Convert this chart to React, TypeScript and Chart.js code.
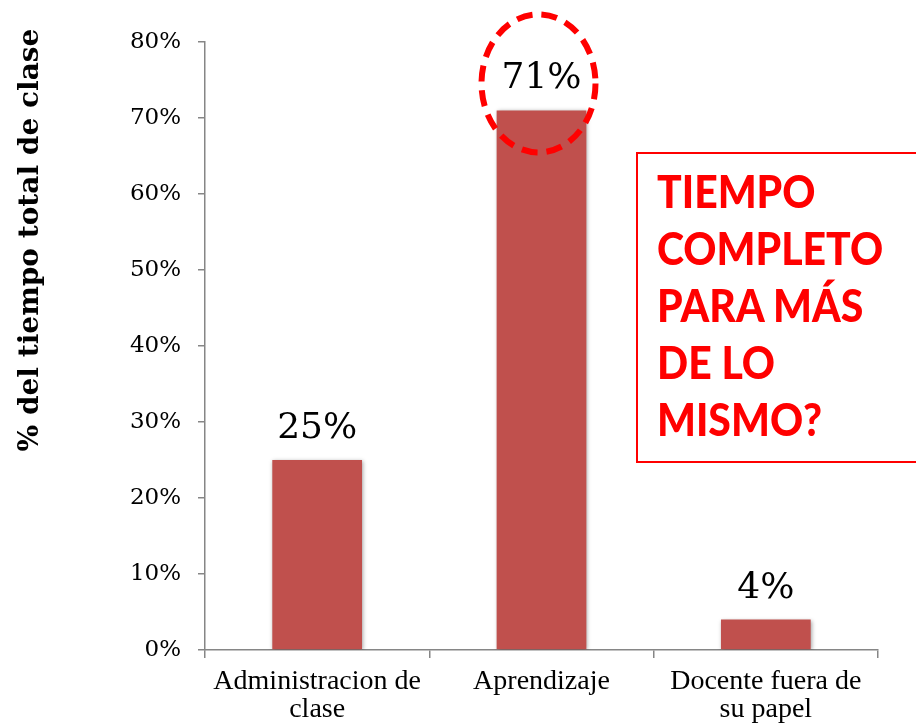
import React, { useEffect, useRef } from "react";
import { Chart, registerables } from "chart.js";

Chart.register(...registerables);

const categories = [["Administracion de", "clase"], ["Aprendizaje"], ["Docente fuera de", "su papel"]];
const values = [25, 71, 4];
const yTicks = [0, 10, 20, 30, 40, 50, 60, 70, 80];
const yAxisTitle = "% del tiempo total de clase";
const calloutLines = ["TIEMPO", "COMPLETO", "PARA MÁS", "DE LO", "MISMO?"];
const highlightIndex = 1;

const BAR_COLOR = "#C0504D";
const AXIS_COLOR = "#868686";
const RED = "#FF0000";

const overlayPlugin = {
  id: "overlayPlugin",
  beforeDatasetsDraw(chart: any) {
    const ctx = chart.ctx;
    ctx.save();
    ctx.shadowColor = "rgba(0,0,0,0.35)";
    ctx.shadowBlur = 4;
    ctx.shadowOffsetX = 1;
    ctx.shadowOffsetY = 1;
  },
  afterDatasetsDraw(chart: any) {
    const ctx = chart.ctx;
    ctx.restore();
    const meta = chart.getDatasetMeta(0);
    ctx.save();
    ctx.fillStyle = "#000";
    ctx.textAlign = "center";
    ctx.textBaseline = "alphabetic";
    ctx.font = "36px 'DejaVu Serif'";
    meta.data.forEach((bar: any, i: number) => {
      ctx.fillText(values[i] + "%", bar.x, bar.y - 22);
    });
    const hb = meta.data[highlightIndex];
    ctx.beginPath();
    ctx.ellipse(hb.x - 3, hb.y - 27, 57, 69, 0, 0, Math.PI * 2);
    ctx.setLineDash([16, 9]);
    ctx.lineWidth = 6;
    ctx.strokeStyle = RED;
    ctx.stroke();
    ctx.setLineDash([]);
    ctx.translate(31, 240);
    ctx.rotate(-Math.PI / 2);
    ctx.font = "bold 28px 'DejaVu Serif'";
    ctx.textBaseline = "middle";
    ctx.fillText(yAxisTitle, 0, 0);
    ctx.restore();
  },
};

export default function App() {
  const ref = useRef<HTMLCanvasElement>(null);
  useEffect(() => {
    if (!ref.current) return;
    const chart = new Chart(ref.current, {
      type: "bar",
      data: {
        labels: categories,
        datasets: [
          {
            data: values,
            backgroundColor: BAR_COLOR,
            categoryPercentage: 1,
            barPercentage: 0.4,
          },
        ],
      },
      options: {
        responsive: false,
        animation: false,
        layout: { padding: { left: 0, top: 42, right: 38, bottom: 0 } },
        plugins: { legend: { display: false }, tooltip: { enabled: false }, title: { display: false } },
        scales: {
          x: {
            grid: { drawOnChartArea: false, tickLength: 8, offset: true, color: AXIS_COLOR, lineWidth: 1.5 },
            border: { color: AXIS_COLOR, width: 1.5 },
            ticks: {
              color: "#000",
              padding: 10,
              font: { family: "'Liberation Serif'", size: 28, lineHeight: 0.98 },
              maxRotation: 0,
              autoSkip: false,
            },
            afterFit: (s: any) => {
              s.height = 77;
            },
          },
          y: {
            min: 0,
            max: 80,
            afterBuildTicks: (s: any) => {
              s.ticks = yTicks.map((v) => ({ value: v }));
            },
            grid: { drawOnChartArea: false, tickLength: 7, color: AXIS_COLOR, lineWidth: 1.5 },
            border: { color: AXIS_COLOR, width: 1.5 },
            ticks: {
              color: "#000",
              padding: 17,
              font: { family: "'DejaVu Serif'", size: 23 },
              callback: (v: any) => v + "%",
            },
            afterFit: (s: any) => {
              s.width = 205;
            },
          },
        },
      },
      plugins: [overlayPlugin],
    });
    return () => chart.destroy();
  }, []);

  return (
    <div style={{ position: "absolute", left: 0, top: 0, width: 916, height: 727, overflow: "hidden", background: "#fff" }}>
      <canvas ref={ref} width={916} height={727} style={{ display: "block", width: 916, height: 727 }} />
      <div
        style={{
          position: "absolute",
          left: 636,
          top: 152,
          width: 320,
          height: 307,
          border: `2px solid ${RED}`,
          boxSizing: "content-box",
        }}
      >
        <div
          style={{
            position: "absolute",
            left: 19,
            top: 9,
            fontFamily: "Lato, 'Open Sans', sans-serif",
            fontWeight: 900,
            fontSize: 45,
            lineHeight: "57px",
            color: RED,
            whiteSpace: "nowrap",
            transform: "scaleX(0.91)",
            transformOrigin: "left top",
          }}
        >
          {calloutLines.map((l, i) => (
            <div key={i}>{l}</div>
          ))}
        </div>
      </div>
    </div>
  );
}
